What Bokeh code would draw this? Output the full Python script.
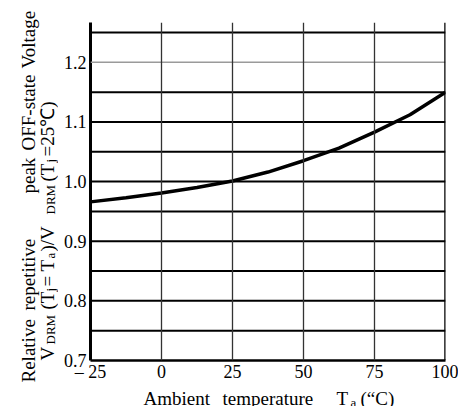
import math
from bokeh.plotting import figure
from bokeh.layouts import column, row
from bokeh.models import Span, FixedTicker, Range1d
from bokeh.core.properties import value
from bokeh.embed import file_html
from bokeh.resources import INLINE

# ---- data ----
temps = [-25, -12.5, 0, 12.5, 25, 37.5, 50, 62.5, 75, 87.5, 100]
ratio = [0.966, 0.973, 0.981, 0.990, 1.001, 1.016, 1.035, 1.056, 1.083, 1.112, 1.150]

x_ticks = [-25, 0, 25, 50, 75, 100]
x_tick_labels = ["– 25", "0", "25", "50", "75", "100"]
y_ticks = [0.7, 0.8, 0.9, 1.0, 1.1, 1.2]
y_tick_labels = ["0.7", "0.8", "0.9", "1.0", "1.1", "1.2"]

h_lines = [0.75, 0.8, 0.85, 0.9, 0.95, 1.0, 1.05, 1.1, 1.15, 1.25]
h_light = [1.2]
v_lines = [0, 25, 50, 75]

FONT = "Times New Roman"
W, H = 458, 406
LEFT_W = 58          # width of the y-title strip
BOT_H = 20           # height of the x-title strip
MAIN_W = W - LEFT_W
MAIN_H = H - BOT_H
FL, FR, FT, FB = 90, 445, 22, 360          # frame edges in page pixels
XMIN, XMAX = -25, 100
YMIN = 0.7
YTOP = 0.7 + (FB - FT) * (0.55 / 328.0)

p = figure(width=MAIN_W, height=MAIN_H, x_range=(XMIN, XMAX), y_range=(YMIN, YTOP),
           output_backend="svg", toolbar_location=None,
           min_border_left=FL - LEFT_W, min_border_right=W - FR,
           min_border_top=FT, min_border_bottom=MAIN_H - FB)
p.outline_line_color = None
p.xgrid.grid_line_color = None
p.ygrid.grid_line_color = None
p.background_fill_color = "white"
p.border_fill_color = "white"

for ax, ticks, labels in ((p.xaxis[0], x_ticks, x_tick_labels),
                          (p.yaxis[0], y_ticks, y_tick_labels)):
    ax.ticker = FixedTicker(ticks=ticks)
    ax.major_label_overrides = {t: l for t, l in zip(ticks, labels)}
    ax.major_tick_line_color = None
    ax.minor_tick_line_color = None
    ax.major_tick_out = 0
    ax.major_tick_in = 0
    ax.minor_tick_out = 0
    ax.minor_tick_in = 0
    ax.major_label_text_font = FONT
    ax.major_label_text_font_size = "18px"
    ax.major_label_text_color = "black"
    ax.axis_line_color = "black"
p.yaxis.axis_line_width = 3
p.xaxis.axis_line_width = 2.5
p.yaxis.major_label_standoff = 4
p.xaxis.major_label_standoff = 1

for v in h_lines:
    p.add_layout(Span(location=v, dimension="width", line_color="black", line_width=2))
for v in h_light:
    p.add_layout(Span(location=v, dimension="width", line_color="#9a9a9a", line_width=1.5))
for v in v_lines:
    p.add_layout(Span(location=v, dimension="height", line_color="#333333", line_width=1.3))
p.add_layout(Span(location=XMAX, dimension="height", line_color="black", line_width=2.5))

p.line(temps, ratio, line_color="black", line_width=3.5)


def strip(w, h):
    f = figure(width=w, height=h, x_range=Range1d(0, w), y_range=Range1d(0, h),
               output_backend="svg", toolbar_location=None,
               x_axis_location=None, y_axis_location=None,
               min_border_left=0, min_border_right=0,
               min_border_top=0, min_border_bottom=0)
    f.grid.visible = False
    f.outline_line_color = None
    f.background_fill_color = "white"
    f.border_fill_color = "white"
    return f


def put(f, h, x0, y0, text, px, py, size, angle=0.0):
    f.text(x=[px - x0], y=[h - (py - y0)], text=[text], angle=angle,
           text_font=value(FONT), text_font_size=size, text_color="black",
           text_align="left", text_baseline="alphabetic")

# y-title strip: page pixels x 0..LEFT_W, y 0..H
ly = strip(LEFT_W, H)
R = math.pi / 2
for t, bx, by, sz in [
    ("Relative", 28, 382, "19px"), ("repetitive", 28, 310, "19px"),
    ("peak", 28, 193, "19px"), ("OFF-state", 28, 150, "19px"),
    ("Voltage", 28, 68, "19px"),
    ("V", 47, 360, "19px"), ("DRM", 50, 344, "13px"), ("(T", 47, 309, "19px"),
    ("j", 50, 291, "13px"), ("= T", 47, 286, "19px"), ("a", 50, 258, "13px"),
    (")/V", 47, 251, "19px"), ("DRM", 50, 214, "13px"), ("(T", 47, 181, "19px"),
    ("j", 50, 162, "13px"), ("=25℃)", 47, 156, "19px"),
]:
    put(ly, H, 0, 0, t, bx, by, sz, R)

# x-title strip: page pixels x LEFT_W..W, y MAIN_H..H
lx = strip(MAIN_W, BOT_H)
for t, bx, by, sz in [
    ("Ambient", 143, 398, "19px"), ("temperature", 222, 398, "19px"),
    ("T", 336, 398, "19px"), ("a", 350, 402, "13px"), ("(“C)", 360, 398, "19px"),
]:
    put(lx, BOT_H, LEFT_W, MAIN_H, t, bx, by, sz)

# wrapping p in its own row keeps the column from aligning lx's frame to p's frame
layout = row(ly, column(row(p, spacing=0), lx, spacing=0), spacing=0)
open("out.html", "w").write(file_html(layout, INLINE))
